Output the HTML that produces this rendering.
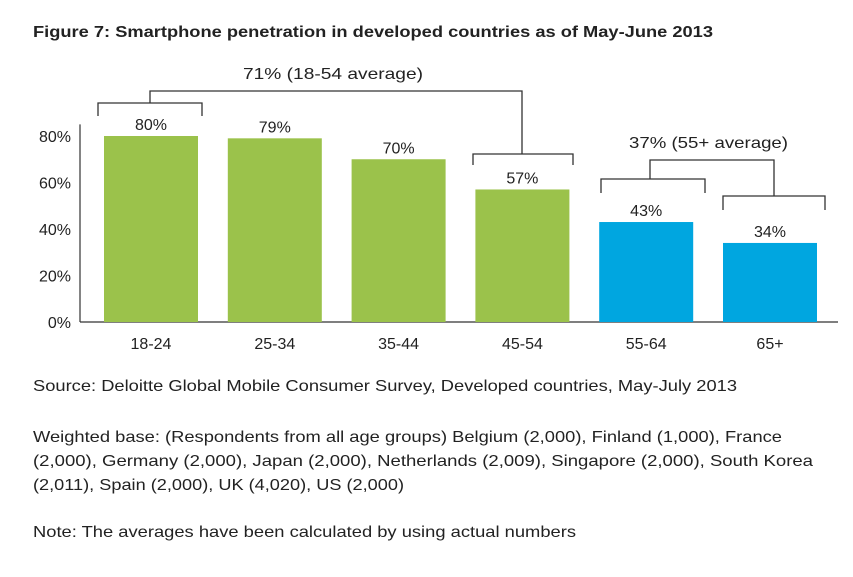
<!DOCTYPE html>
<html><head><meta charset="utf-8"><style>
body{margin:0;background:#fff;width:853px;height:572px;overflow:hidden;font-family:"Liberation Sans",sans-serif;color:#222}
svg text{font-family:"Liberation Sans",sans-serif}
</style></head><body>
<svg width="853" height="572">
<text x="33" y="37" font-size="16" font-weight="bold" fill="#222" textLength="680" lengthAdjust="spacingAndGlyphs">Figure 7: Smartphone penetration in developed countries as of May-June 2013</text>
<g id="axis"></g>
<g id="bars"></g>
<g stroke="#333" stroke-width="1.3" fill="none">
<polyline points="98,116 98,103 202,103 202,116"/>
<polyline points="150,103 150,91 522,91 522,154"/>
<polyline points="473,165 473,154 573,154 573,165"/>
<polyline points="601,193 601,179 705,179 705,193"/>
<polyline points="650,179 650,160 774,160 774,196"/>
<polyline points="723,210 723,196 825,196 825,210"/>
</g>
<text x="243" y="79" font-size="16" fill="#222" textLength="180" lengthAdjust="spacingAndGlyphs">71% (18-54 average)</text>
<text x="629" y="148" font-size="16" fill="#222" textLength="159" lengthAdjust="spacingAndGlyphs">37% (55+ average)</text>
<g font-size="16" fill="#222">
<text x="33" y="391" textLength="704" lengthAdjust="spacingAndGlyphs">Source: Deloitte Global Mobile Consumer Survey, Developed countries, May-July 2013</text>
<text x="33" y="442" textLength="749" lengthAdjust="spacingAndGlyphs">Weighted base: (Respondents from all age groups) Belgium (2,000), Finland (1,000), France</text>
<text x="33" y="466" textLength="780" lengthAdjust="spacingAndGlyphs">(2,000), Germany (2,000), Japan (2,000), Netherlands (2,009), Singapore (2,000), South Korea</text>
<text x="33" y="490" textLength="371" lengthAdjust="spacingAndGlyphs">(2,011), Spain (2,000), UK (4,020), US (2,000)</text>
<text x="33" y="537" textLength="543" lengthAdjust="spacingAndGlyphs">Note: The averages have been calculated by using actual numbers</text>
</g>
</svg>
<script>
const categories=["18-24","25-34","35-44","45-54","55-64","65+"];
const values=[80,79,70,57,43,34];
const groups=["young","young","young","young","old","old"];
const ticks=[0,20,40,60,80];
const ns="http://www.w3.org/2000/svg";
const y0=322,pxPer=(322-136)/80,x0=104,step=123.8,bw=94;
function y(v){return y0-v*pxPer}
function x(i){return x0+i*step}
function mk(t,a,p){const e=document.createElementNS(ns,t);for(const k in a)e.setAttribute(k,a[k]);p.appendChild(e);return e}
const ax=document.getElementById('axis'),bars=document.getElementById('bars');
ticks.forEach(t=>{const e=mk('text',{x:71,y:y(t)+6,'font-size':16,'text-anchor':'end',fill:'#222'},ax);e.textContent=t+'%';

});
const vl=mk('line',{x1:80,y1:y(85),x2:80,y2:y0,stroke:'#333','stroke-width':1.2},ax);


const hl=mk('line',{x1:80,y1:y0,x2:838,y2:y0,stroke:'#333','stroke-width':1.2},ax);


categories.forEach((c,i)=>{
const r=mk('rect',{x:x(i),y:y(values[i]),width:bw,height:y0-y(values[i]),fill:groups[i]==='young'?'#9BC24B':'#00A6E0'},bars);


const v=mk('text',{x:x(i)+bw/2,y:y(values[i])-6,'font-size':16,'text-anchor':'middle',fill:'#222'},bars);v.textContent=values[i]+'%';


const l=mk('text',{x:x(i)+bw/2,y:349,'font-size':16,'text-anchor':'middle',fill:'#222'},bars);l.textContent=c;


});
</script>
</body></html>
